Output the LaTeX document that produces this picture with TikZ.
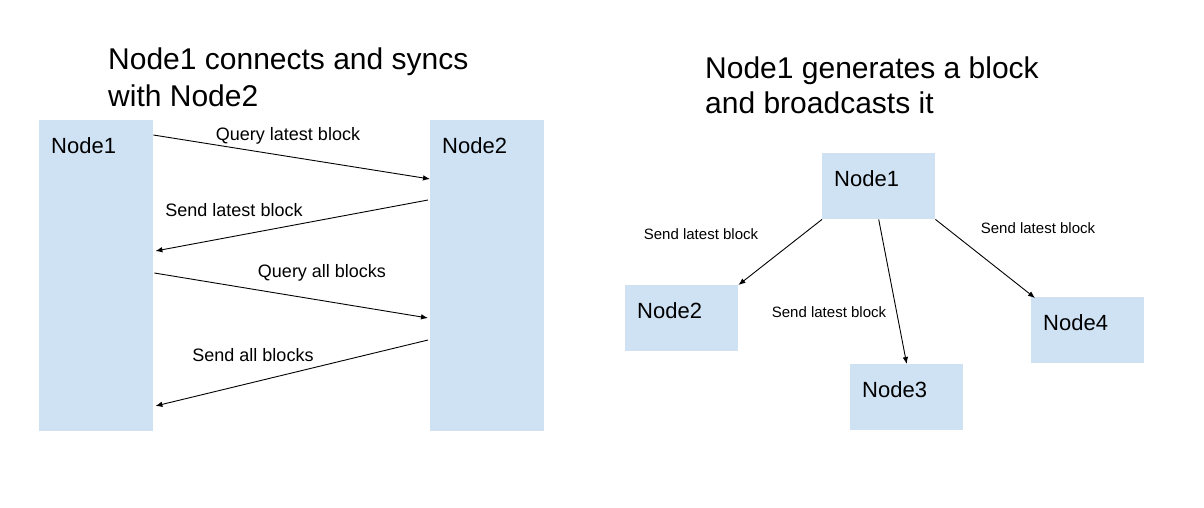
\documentclass[tikz,border=0pt]{standalone}
\usepackage{fontspec}
\setmainfont{Liberation Sans}
\usetikzlibrary{arrows.meta,positioning}
\definecolor{boxblue}{HTML}{CFE2F3}

\begin{document}
\begin{tikzpicture}[
    x=1pt, y=-1pt,
    block/.style={fill=boxblue, draw=none, inner sep=0pt, anchor=north west},
    tall/.style={block, minimum width=114pt, minimum height=311pt},
    small/.style={block, minimum width=113pt, minimum height=66pt},
    boxtext/.style={anchor=base west, inner sep=0pt, font=\fontsize{22}{26}\selectfont},
    heading/.style={anchor=north west, inner sep=0pt, align=left,
      font=\fontsize{30}{37}\selectfont},
    msg/.style={anchor=base, inner sep=0pt, font=\fontsize{18}{22}\selectfont},
    note/.style={msg, font=\fontsize{15}{18}\selectfont},
    arrow/.style={-{Latex[length=7pt,width=5.5pt]}, line width=0.9pt}
  ]
    \useasboundingbox (0,0) rectangle (1204,507);

    % left: sync between two nodes
    \node[heading] (synctitle) at (108,47.5) {Node1 connects and syncs\\with Node2};
    \node[tall] (sync1) at (39,120) {};
    \node[tall] (sync2) at (430,120) {};
    \node[boxtext] (sync1txt) at ([shift={(12pt,-33.5pt)}]sync1.north west) {Node1};
    \node[boxtext] (sync2txt) at ([shift={(12pt,-33.5pt)}]sync2.north west) {Node2};

    \draw[arrow] ([yshift=-15pt]sync1.north east) -- ([yshift=-59pt]sync2.north west);
    \draw[arrow] ([shift={(-2pt,-80pt)}]sync2.north west) -- ([shift={(2pt,-131pt)}]sync1.north east);
    \draw[arrow] ([shift={(1pt,-153pt)}]sync1.north east) -- ([shift={(-2pt,-198pt)}]sync2.north west);
    \draw[arrow] ([shift={(-2pt,-220pt)}]sync2.north west) -- ([shift={(2pt,-286pt)}]sync1.north east);

    \node[msg] (qlatest) at (288,140) {Query latest block};
    \node[msg] (slatest) at (234,216) {Send latest block};
    \node[msg] (qall) at (322,277) {Query all blocks};
    \node[msg] (sall) at (253,361) {Send all blocks};

    % right: broadcast of a new block
    \node[heading, font=\fontsize{30}{35}\selectfont] (bctitle) at (705,56.5)
      {Node1 generates a block\\and broadcasts it};
    \node[small] (bc1) at (822,153) {};
    \node[small] (bc2) at (625,285) {};
    \node[small] (bc3) at (850,364) {};
    \node[small] (bc4) at (1031,297) {};
    \foreach \n in {1,...,4}
      \node[boxtext] (bc\n txt) at ([shift={(12pt,-33.5pt)}]bc\n.north west) {Node\n};

    \draw[arrow] (bc1.south west) -- (bc2.north east);
    \draw[arrow] (bc1.south) -- (bc3.north);
    \draw[arrow] (bc1.south east) -- ([shift={(4pt,-1pt)}]bc4.north west);

    \node[note] (bcnote2) at (701,239) {Send latest block};
    \node[note] (bcnote3) at (829,317) {Send latest block};
    \node[note] (bcnote4) at (1038,233) {Send latest block};
\end{tikzpicture}
\end{document}
